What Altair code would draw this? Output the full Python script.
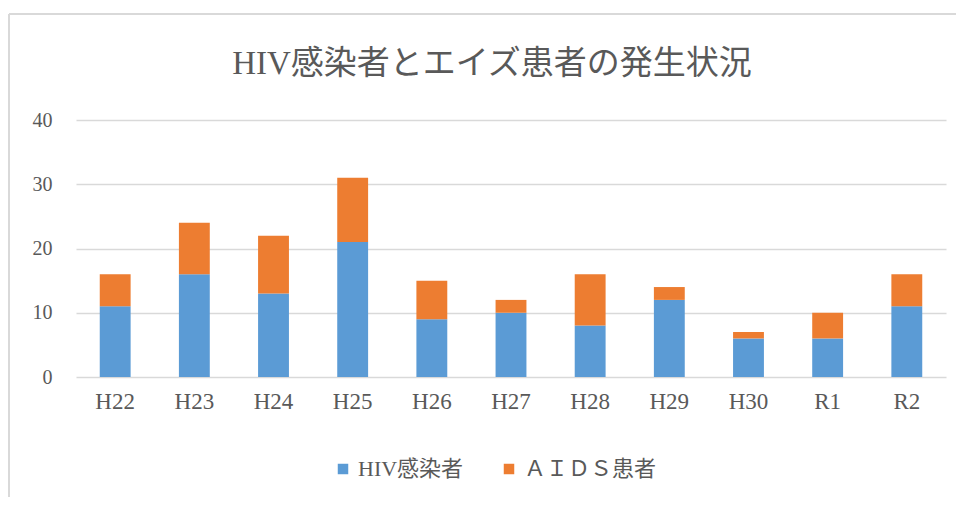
import altair as alt
import pandas as pd

years = ["H22", "H23", "H24", "H25", "H26", "H27", "H28", "H29", "H30", "R1", "R2"]
hiv = [11, 16, 13, 21, 9, 10, 8, 12, 6, 6, 11]
aids = [5, 8, 9, 10, 6, 2, 8, 2, 1, 4, 5]
series = ["HIV感染者", "ＡＩＤＳ患者"]
colors = ["#5B9BD5", "#ED7D31"]
y_ticks = [0, 10, 20, 30, 40]

rows = []
for i, y in enumerate(years):
    rows.append({"year": y, "series": series[0], "value": hiv[i], "ord": 0})
    rows.append({"year": y, "series": series[1], "value": aids[i], "ord": 1})
df = pd.DataFrame(rows)

FONT = "Liberation Serif, DejaVu Serif, Noto Sans CJK JP"
GRAY = "#595959"

bars = alt.Chart(df).mark_bar().encode(
    x=alt.X("year:N", sort=years, title=None,
            scale=alt.Scale(paddingInner=0.61, paddingOuter=0.3),
            axis=alt.Axis(labelAngle=0, ticks=False, domain=False,
                          labelFontSize=23, labelColor=GRAY, labelFont=FONT,
                          labelPadding=13)),
    y=alt.Y("value:Q", stack="zero", title=None,
            scale=alt.Scale(domain=[0, 40]),
            axis=alt.Axis(values=y_ticks, ticks=False, domain=False,
                          grid=True, gridColor="#d9d9d9", gridWidth=1.5,
                          labelFontSize=20, labelColor=GRAY, labelFont=FONT,
                          labelPadding=24)),
    color=alt.Color("series:N", sort=series,
                    scale=alt.Scale(domain=series, range=colors),
                    legend=alt.Legend(title=None, orient="none", direction="horizontal",
                                      legendX=256, legendY=338,
                                      symbolType="square", symbolSize=110,
                                      symbolStrokeWidth=0,
                                      labelFontSize=22, labelColor=GRAY, labelFont=FONT,
                                      columnPadding=34, labelOffset=4)),
    order=alt.Order("ord:Q"),
)

frame_left = alt.Chart(df).mark_rule(color="#d9d9d9", strokeWidth=2).encode(
    x=alt.value(-67), y=alt.value(-106), y2=alt.value(380)
)
frame_top = alt.Chart(df).mark_rule(color="#d9d9d9", strokeWidth=2).encode(
    x=alt.value(-67), x2=alt.value(890), y=alt.value(-106)
)

chart = alt.layer(frame_left, frame_top, bars).properties(
    width=870, height=257,
    title=alt.Title("HIV感染者とエイズ患者の発生状況", fontSize=33, font=FONT,
                    color=GRAY, fontWeight="normal", anchor="middle",
                    frame="group", offset=-68, dx=-19),
    autosize=alt.AutoSizeParams(type="none"),
    padding={"left": 68, "top": 112, "right": 10, "bottom": 120},
).configure_view(stroke=None)

chart.save("out.html", embed_options={"renderer": "svg", "actions": False})
